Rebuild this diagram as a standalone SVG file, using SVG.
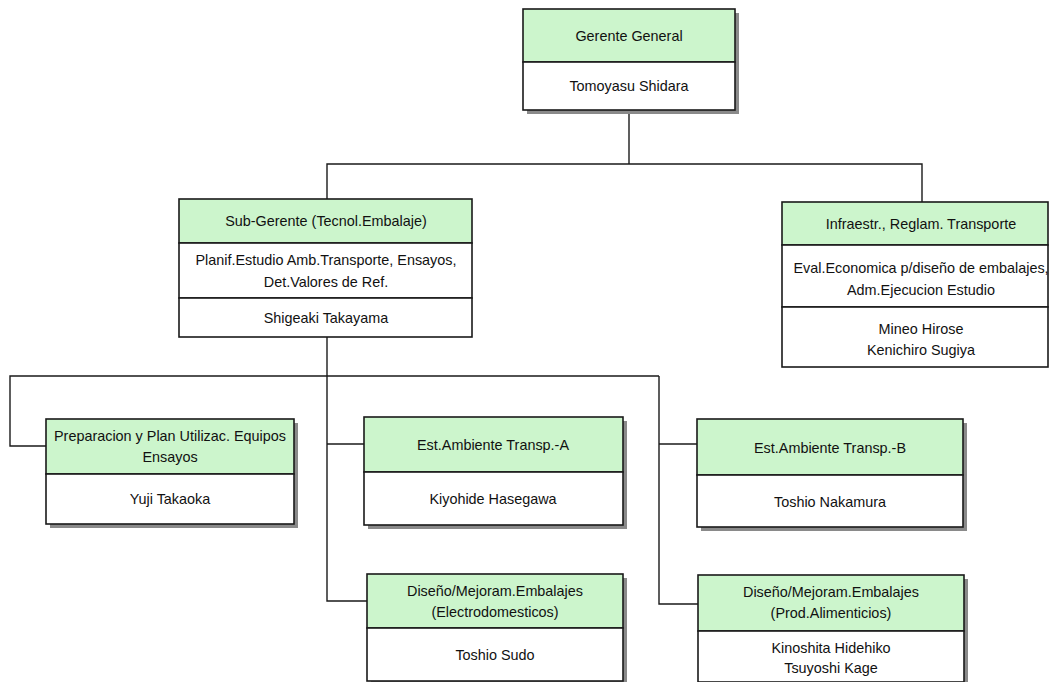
<svg xmlns="http://www.w3.org/2000/svg" width="1050" height="682" viewBox="0 0 1050 682">
  <style>
    .shadow { fill: #8a8a8a; }
    .head { fill: #ccf5cc; stroke: #1a1a1a; stroke-width: 1.6; }
    .body { fill: #ffffff; stroke: #1a1a1a; stroke-width: 1.6; }
    .wire { fill: none; stroke: #1a1a1a; stroke-width: 1.4; }
    text { font-family: "Liberation Sans", Arial, sans-serif; font-size: 14.4px; fill: #111; text-anchor: middle; }
  </style>
  <rect width="1050" height="682" fill="#ffffff"/>

  <!-- connectors -->
  <g id="connectors">
    <path class="wire" d="M629 110 V164"/>
    <path class="wire" d="M327 199 V164 H922 V202"/>
    <path class="wire" d="M327 337 V376"/>
    <path class="wire" d="M46 446 H10 V376 H659"/>
    <path class="wire" d="M327 376 V601 H367"/>
    <path class="wire" d="M327 444 H364"/>
    <path class="wire" d="M659 376 V604 H698"/>
    <path class="wire" d="M659 444 H697"/>
  </g>

  <!-- Gerente General -->
  <g id="gerente-general">
    <rect class="shadow" x="527" y="13" width="212" height="101"/>
    <rect class="head" x="523" y="9" width="212" height="53"/>
    <rect class="body" x="523" y="62" width="212" height="48"/>
    <text x="629" y="41">Gerente General</text>
    <text x="629" y="91">Tomoyasu Shidara</text>
  </g>

  <!-- Sub-Gerente -->
  <g id="sub-gerente">
    <rect class="head" x="179" y="199" width="293" height="44"/>
    <rect class="body" x="179" y="243" width="293" height="55"/>
    <rect class="body" x="179" y="298" width="293" height="39"/>
    <text x="326" y="226">Sub-Gerente (Tecnol.Embalaje)</text>
    <text x="326" y="265">Planif.Estudio Amb.Transporte, Ensayos,</text>
    <text x="326" y="287">Det.Valores de Ref.</text>
    <text x="326" y="323">Shigeaki Takayama</text>
  </g>

  <!-- Infraestructura -->
  <g id="infraestructura">
    <rect class="head" x="782" y="202" width="266" height="43"/>
    <rect class="body" x="782" y="245" width="266" height="62"/>
    <rect class="body" x="782" y="307" width="266" height="60"/>
    <text x="921" y="229">Infraestr., Reglam. Transporte</text>
    <text x="921" y="273">Eval.Economica p/diseño de embalajes,</text>
    <text x="921" y="295">Adm.Ejecucion Estudio</text>
    <text x="921" y="334">Mineo Hirose</text>
    <text x="921" y="355">Kenichiro Sugiya</text>
  </g>

  <!-- Preparacion -->
  <g id="preparacion">
    <rect class="shadow" x="50" y="423" width="248" height="105"/>
    <rect class="head" x="46" y="419" width="248" height="55"/>
    <rect class="body" x="46" y="474" width="248" height="50"/>
    <text x="170" y="441">Preparacion y Plan Utilizac. Equipos</text>
    <text x="170" y="462">Ensayos</text>
    <text x="170" y="504">Yuji Takaoka</text>
  </g>

  <!-- Est. Ambiente A -->
  <g id="ambiente-a">
    <rect class="shadow" x="368" y="421" width="259" height="108"/>
    <rect class="head" x="364" y="417" width="259" height="55"/>
    <rect class="body" x="364" y="472" width="259" height="53"/>
    <text x="493" y="450">Est.Ambiente Transp.-A</text>
    <text x="493" y="504">Kiyohide Hasegawa</text>
  </g>

  <!-- Est. Ambiente B -->
  <g id="ambiente-b">
    <rect class="shadow" x="701" y="423" width="266" height="108"/>
    <rect class="head" x="697" y="419" width="266" height="56"/>
    <rect class="body" x="697" y="475" width="266" height="52"/>
    <text x="830" y="453">Est.Ambiente Transp.-B</text>
    <text x="830" y="507">Toshio Nakamura</text>
  </g>

  <!-- Diseno Electrodomesticos -->
  <g id="diseno-electro">
    <rect class="shadow" x="371" y="578" width="256" height="107"/>
    <rect class="head" x="367" y="574" width="256" height="54"/>
    <rect class="body" x="367" y="628" width="256" height="53"/>
    <text x="495" y="596">Diseño/Mejoram.Embalajes</text>
    <text x="495" y="617">(Electrodomesticos)</text>
    <text x="495" y="660">Toshio Sudo</text>
  </g>

  <!-- Diseno Alimenticios -->
  <g id="diseno-alimenticios">
    <rect class="shadow" x="702" y="579" width="266" height="107"/>
    <rect class="head" x="698" y="575" width="266" height="56"/>
    <rect class="body" x="698" y="631" width="266" height="51"/>
    <text x="831" y="597">Diseño/Mejoram.Embalajes</text>
    <text x="831" y="618">(Prod.Alimenticios)</text>
    <text x="831" y="653">Kinoshita Hidehiko</text>
    <text x="831" y="673">Tsuyoshi Kage</text>
  </g>
</svg>
